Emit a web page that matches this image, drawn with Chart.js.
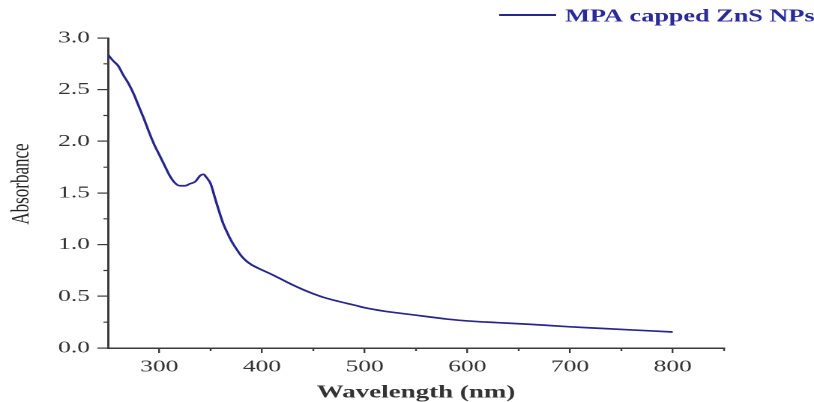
<!DOCTYPE html>
<html>
<head>
<meta charset="utf-8">
<script src="https://cdn.jsdelivr.net/npm/chart.js@4"></script>
<style>
  html, body { margin: 0; padding: 0; background: #fff; overflow: hidden; }
  /* the source figure is a horizontally stretched image, so the chart is drawn narrow and stretched */
  #wrap { width: 543px; height: 402px; transform: scaleX(1.4991); transform-origin: 0 0; }
</style>
</head>
<body>
<div id="wrap"><canvas id="chart"></canvas></div>
<script>
const wavelengths = [250, 255, 260, 265, 270, 275, 280, 285, 290, 295, 300, 305, 310, 315, 320, 325, 330, 335, 340, 343, 346, 350, 354, 358, 362, 366, 370, 375, 380, 385, 390, 400, 410, 420, 430, 440, 450, 460, 475, 490, 500, 520, 540, 560, 580, 600, 630, 660, 700, 730, 760, 800];
const absorbance = [2.84, 2.78, 2.73, 2.64, 2.56, 2.46, 2.34, 2.22, 2.09, 1.97, 1.87, 1.77, 1.67, 1.60, 1.57, 1.57, 1.59, 1.61, 1.67, 1.68, 1.65, 1.59, 1.46, 1.33, 1.21, 1.12, 1.04, 0.96, 0.89, 0.84, 0.805, 0.755, 0.71, 0.66, 0.61, 0.565, 0.525, 0.49, 0.45, 0.415, 0.39, 0.355, 0.33, 0.305, 0.28, 0.262, 0.245, 0.23, 0.205, 0.19, 0.175, 0.155];
const xMajor = [300, 400, 500, 600, 700, 800];
const xMinor = [350, 450, 550, 650, 750, 850];
const yMajor = [0, 0.5, 1.0, 1.5, 2.0, 2.5, 3.0];
const yMinor = [0.25, 0.75, 1.25, 1.75, 2.25, 2.75];
const seriesLabel = "MPA capped ZnS NPs";
const yTitle = "Absorbance";

const lineColor = "#26268c";
const axisColor = "#3a3a3a";
const serif = "'Liberation Serif', 'Times New Roman', serif";

const extras = {
  id: "extras",
  afterDraw(chart) {
    const { ctx, chartArea } = chart;
    const x = chart.scales.x;
    const y = chart.scales.y;
    ctx.save();
    ctx.strokeStyle = axisColor;
    ctx.lineWidth = 1.2;
    ctx.beginPath();
    xMinor.forEach((v) => {
      const px = x.getPixelForValue(v);
      ctx.moveTo(px, chartArea.bottom);
      ctx.lineTo(px, chartArea.bottom + 3);
    });
    yMinor.forEach((v) => {
      const py = y.getPixelForValue(v);
      ctx.moveTo(chartArea.left - 3, py);
      ctx.lineTo(chartArea.left, py);
    });
    ctx.stroke();

    // y title, sits a little above the middle in the source
    ctx.fillStyle = "#222";
    ctx.font = `17px ${serif}`;
    ctx.textAlign = "center";
    ctx.textBaseline = "middle";
    ctx.translate(14.5, 184);
    ctx.rotate(-Math.PI / 2);
    ctx.fillText(yTitle, 0, 0);
    ctx.setTransform(chart.currentDevicePixelRatio, 0, 0, chart.currentDevicePixelRatio, 0, 0);

    // legend
    ctx.strokeStyle = lineColor;
    ctx.lineWidth = 2;
    ctx.beginPath();
    ctx.moveTo(333, 15);
    ctx.lineTo(371, 15);
    ctx.stroke();
    ctx.fillStyle = "#2a2a9a";
    ctx.font = `bold 17.5px ${serif}`;
    ctx.textBaseline = "middle";
    ctx.textAlign = "left";
    ctx.fillText(seriesLabel, 377, 17);
    ctx.restore();
  },
};

new Chart(document.getElementById("chart"), {
  type: "scatter",
  data: {
    datasets: [{
      label: seriesLabel,
      data: wavelengths.map((w, i) => ({ x: w, y: absorbance[i] })),
      showLine: true,
      borderColor: lineColor,
      borderWidth: 1.7,
      pointRadius: 0,
      cubicInterpolationMode: "monotone",
    }],
  },
  options: {
    responsive: true,
    maintainAspectRatio: false,
    animation: false,
    devicePixelRatio: 2,
    layout: { padding: { top: 38, right: 60, left: 0, bottom: 0 } },
    plugins: { legend: { display: false }, tooltip: { enabled: false } },
    scales: {
      x: {
        type: "linear",
        min: 250,
        max: 850,
        afterBuildTicks: (scale) => { scale.ticks = xMajor.map((v) => ({ value: v })); },
        afterFit: (scale) => { scale.height = 54; },
        grid: { drawOnChartArea: false, tickLength: 5, color: axisColor, lineWidth: 1.2 },
        border: { color: axisColor, width: 1.5 },
        ticks: { color: "#333", font: { family: serif, size: 17 }, padding: 4, maxRotation: 0, autoSkip: false },
        title: { display: true, text: "Wavelength (nm)", color: "#333", font: { family: serif, size: 18, weight: "bold", lineHeight: 1 }, padding: 0 },
      },
      y: {
        min: 0,
        max: 3,
        afterBuildTicks: (scale) => { scale.ticks = yMajor.map((v) => ({ value: v })); },
        afterFit: (scale) => { scale.width = 72; },
        grid: { drawOnChartArea: false, tickLength: 7, color: axisColor, lineWidth: 1.2 },
        border: { color: axisColor, width: 1.5 },
        ticks: { color: "#333", font: { family: serif, size: 17 }, padding: 5, callback: (v) => Number(v).toFixed(1) },
      },
    },
  },
  plugins: [extras],
});
</script>
</body>
</html>
